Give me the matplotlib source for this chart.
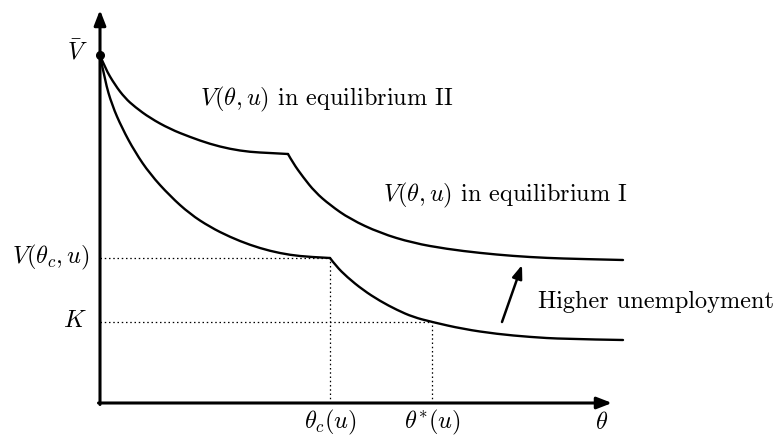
import matplotlib
matplotlib.use("Agg")
import matplotlib.pyplot as plt
from matplotlib.path import Path
from matplotlib.patches import PathPatch

plt.rcParams['mathtext.fontset'] = 'cm'
plt.rcParams['font.family'] = ['cmr10', 'DejaVu Serif']
plt.rcParams['axes.unicode_minus'] = False

# Curve in equilibrium II (upper), before and after the kink
theta_II_pre = [0, 5, 15, 25, 35, 50, 70, 90, 110, 130, 150, 170, 188]
V_II_pre = [348, 335, 318, 305, 296, 285, 274, 266, 259, 254, 251, 250, 249]
theta_II_post = [188, 193, 203, 215, 230, 250, 280, 313, 347, 380, 413, 447, 480, 523]
V_II_post = [249, 240, 226, 211, 198, 184, 170, 160, 154, 150, 147, 145, 144, 143]

# Curve in equilibrium I (lower), before and after the kink
theta_I_pre = [0, 5, 12, 22, 35, 50, 70, 90, 110, 130, 150, 170, 190, 210, 230]
V_I_pre = [348, 322, 298, 275, 251, 229, 207, 189, 176, 166, 158, 152, 148, 146, 145]
theta_I_post = [230, 236, 247, 263, 280, 297, 313, 332, 363, 397, 430, 463, 523]
V_I_post = [145, 137, 126, 113, 102, 93, 86, 81, 74, 69, 66, 64, 63]

V_bar = 348
theta_c, V_c = 230, 145
theta_star, K = 332, 81

fig = plt.figure(figsize=(7.75, 4.37), dpi=100)
ax = fig.add_axes([0, 0, 1, 1])
ax.set_xlim(-100, 675)
ax.set_ylim(-34, 403)
ax.axis('off')

lw = 1.7


def smooth_segment(xs, ys):
    pts = list(zip(xs, ys))
    verts = [pts[0]]
    codes = [Path.MOVETO]
    n = len(pts)
    for i in range(1, n - 1):
        p, q = pts[i], pts[i + 1]
        end = q if i == n - 2 else ((p[0] + q[0]) / 2, (p[1] + q[1]) / 2)
        verts += [p, end]
        codes += [Path.CURVE3, Path.CURVE3]
    patch = PathPatch(Path(verts, codes), facecolor='none', edgecolor='black',
                      lw=lw, capstyle='round', joinstyle='round')
    ax.add_patch(patch)


smooth_segment(theta_II_pre, V_II_pre)
smooth_segment(theta_II_post, V_II_post)
smooth_segment(theta_I_pre, V_I_pre)
smooth_segment(theta_I_post, V_I_post)
ax.plot([0], [V_bar], 'o', color='black', ms=5.5)

# dotted guides
dot = dict(color='black', lw=0.9, ls=(0, (1.2, 2.2)))
ax.plot([0, theta_c], [V_c, V_c], **dot)
ax.plot([theta_c, theta_c], [0, V_c], **dot)
ax.plot([0, theta_star], [K, K], **dot)
ax.plot([theta_star, theta_star], [0, K], **dot)

# axes with arrows
ax.annotate('', xy=(0, 393), xytext=(0, -1.5),
            arrowprops=dict(arrowstyle='-|>,head_length=0.9,head_width=0.35',
                            color='black', lw=2.2, shrinkA=0, shrinkB=0))
ax.annotate('', xy=(512, 0), xytext=(-1.5, 0),
            arrowprops=dict(arrowstyle='-|>,head_length=0.9,head_width=0.35',
                            color='black', lw=2.2, shrinkA=0, shrinkB=0))

# movement arrow
ax.annotate('', xy=(422, 138), xytext=(402, 81),
            arrowprops=dict(arrowstyle='-|>,head_length=0.8,head_width=0.3',
                            color='black', lw=1.8, shrinkA=0, shrinkB=0))

fs = 17.5
ax.text(-12, 351, r'$\bar{V}$', ha='right', va='center', fontsize=fs)
ax.text(-10, V_c + 1, r'$V(\theta_c,u)$', ha='right', va='center', fontsize=fs)
ax.text(-13, K + 1, r'$K$', ha='right', va='center', fontsize=fs)
ax.text(theta_c, -5, r'$\theta_c(u)$', ha='center', va='top', fontsize=fs)
ax.text(theta_star, -5, r'$\theta^{*}(u)$', ha='center', va='top', fontsize=fs)
ax.text(502, -9, r'$\theta$', ha='center', va='top', fontsize=fs)
ax.text(100, 304, r'$V(\theta,u)$ in equilibrium II', ha='left', va='center', fontsize=fs)
ax.text(283, 208, r'$V(\theta,u)$ in equilibrium I', ha='left', va='center', fontsize=fs)
ax.text(438, 101, 'Higher unemployment', ha='left', va='center', fontsize=fs)

fig.savefig('out.png', dpi=100)
